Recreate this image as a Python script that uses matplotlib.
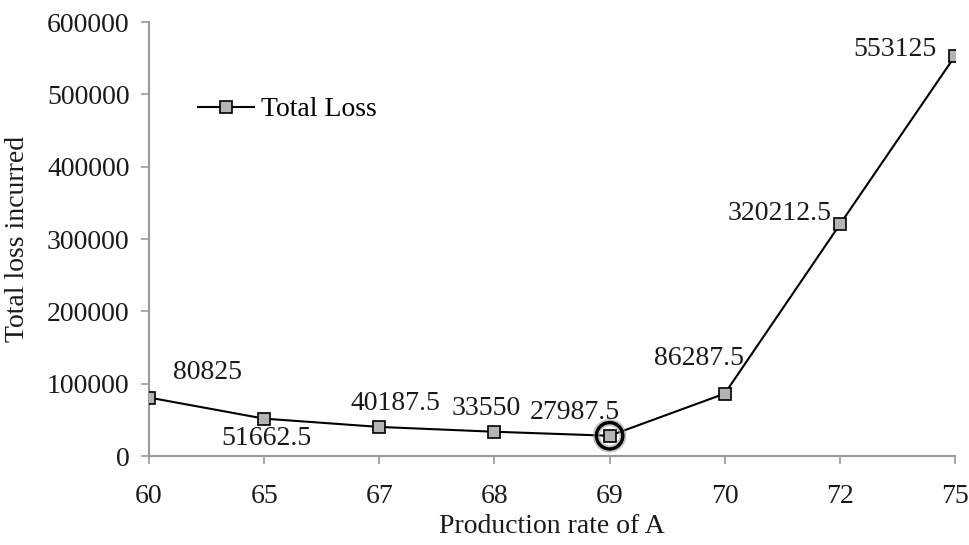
import matplotlib
matplotlib.use("Agg")
import matplotlib.pyplot as plt
import matplotlib.patheffects as pe

plt.rcParams["font.family"] = ["Liberation Serif", "DejaVu Serif"]

rates = ["60", "65", "67", "68", "69", "70", "72", "75"]
total_loss = [80825, 51662.5, 40187.5, 33550, 27987.5, 86287.5, 320212.5, 553125]
labels = ["80825", "51662.5", "40187.5", "33550", "27987.5", "86287.5", "320212.5", "553125"]
# label offsets in pixels (dx, dy) and horizontal alignment per point
offsets = [(59, 25, "center"), (2, -20, "center"), (16, 23, "center"), (-8, 23, "center"),
           (-35, 23, "center"), (-26, 35, "center"), (-8, 11, "right"), (-18, 6, "right")]
min_idx = 4

fig = plt.figure(figsize=(9.7, 5.45), dpi=100)
ax = fig.add_axes([0.1536, 0.1633, 0.831, 0.7963])

x = list(range(len(rates)))
ax.plot(x, total_loss, color="black", lw=1.5, marker="s", markersize=8,
        markerfacecolor="#b4b4b4", markeredgecolor="black", markeredgewidth=1.2,
        label="Total Loss", zorder=3)

# ring around the minimum
ax.plot(x[min_idx], total_loss[min_idx], marker="o", markersize=19, markerfacecolor="none",
        markeredgecolor="black", markeredgewidth=2.4, zorder=4,
        path_effects=[pe.SimpleLineShadow(offset=(0, 0), shadow_color="#999999", alpha=0.6, linewidth=5),
                      pe.Normal()])

for xi, yi, lab, (dx, dy, ha) in zip(x, total_loss, labels, offsets):
    ax.annotate(lab, (xi, yi), xytext=(dx, dy), textcoords="offset pixels",
                ha=ha, va="center", fontsize=20, color="#1a1a1a")

ax.set_xlim(0, len(rates) - 1)
ax.set_ylim(0, 600000)
ax.set_xticks(x)
ax.set_xticklabels(rates)
ax.set_yticks(range(0, 600001, 100000))
ax.tick_params(labelsize=20, colors="#1a1a1a", length=6, width=1.2)
ax.tick_params(axis="x", pad=14)
ax.tick_params(axis="y", pad=8)
ax.tick_params(axis="both", color="#999999")
for side in ("top", "right"):
    ax.spines[side].set_visible(False)
for side in ("left", "bottom"):
    ax.spines[side].set_color("#999999")
    ax.spines[side].set_linewidth(1.5)
ax.spines["bottom"].set_zorder(1)

ax.set_xlabel("Production rate of A", fontsize=20, color="#1a1a1a", labelpad=4)
ax.set_ylabel("Total loss incurred", fontsize=20, color="#1a1a1a", labelpad=12)

ax.legend(loc="upper left", bbox_to_anchor=(0.03, 0.885), frameon=False, fontsize=20,
          handlelength=2.0, handletextpad=0.25)

fig.savefig("out.png", dpi=100)
